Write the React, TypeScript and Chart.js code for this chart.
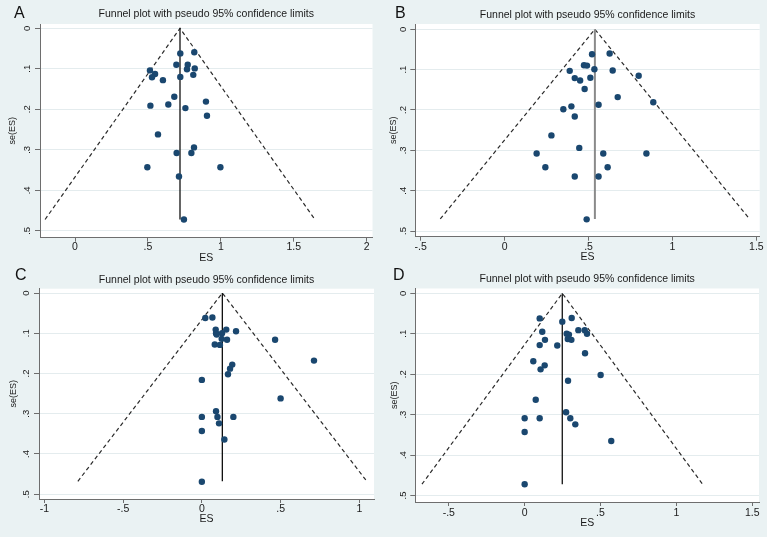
import React, { useEffect, useRef } from 'react';
import { Chart, registerables } from 'chart.js';
Chart.register(...registerables);

Chart.defaults.font.family = '"Liberation Sans", Arial, sans-serif';

// ---------- data ----------
const chartTitle = 'Funnel plot with pseudo 95% confidence limits';
const xTitle = 'ES';
const yTitle = 'se(ES)';
const seTicks = [0, 0.1, 0.2, 0.3, 0.4, 0.5];

const esA = [0.722, 0.818, 0.695, 0.773, 0.768, 0.821, 0.514, 0.549, 0.528, 0.722, 0.811, 0.603, 0.681, 0.898, 0.64, 0.517, 0.757, 0.905, 0.569, 0.816, 0.697, 0.798, 0.496, 0.997, 0.713, 0.747];
const seA = [0.062, 0.059, 0.090, 0.090, 0.101, 0.099, 0.104, 0.113, 0.121, 0.120, 0.115, 0.128, 0.169, 0.181, 0.188, 0.191, 0.197, 0.216, 0.262, 0.294, 0.308, 0.308, 0.343, 0.343, 0.366, 0.472];
const pooledA = 0.72;
const maxSeA = 0.472;
const xTicksA = [0, 0.5, 1, 1.5, 2];

const esB = [0.521, 0.626, 0.473, 0.491, 0.535, 0.388, 0.644, 0.799, 0.418, 0.45, 0.511, 0.477, 0.674, 0.886, 0.56, 0.398, 0.35, 0.418, 0.279, 0.445, 0.191, 0.588, 0.845, 0.243, 0.614, 0.418, 0.56, 0.489];
const seB = [0.062, 0.060, 0.089, 0.090, 0.099, 0.103, 0.102, 0.115, 0.121, 0.127, 0.120, 0.148, 0.168, 0.181, 0.187, 0.191, 0.198, 0.216, 0.263, 0.294, 0.308, 0.308, 0.308, 0.342, 0.342, 0.365, 0.365, 0.471];
const pooledB = 0.538;
const maxSeB = 0.47;
const xTicksB = [-0.5, 0, 0.5, 1, 1.5];

const esC = [0.022, 0.067, 0.088, 0.155, 0.217, 0.09, 0.094, 0.128, 0.126, 0.16, 0.465, 0.082, 0.115, 0.712, 0.193, 0.179, 0.166, 0, 0.5, 0.09, 0, 0.099, 0.2, 0.109, 0, 0.143, 0];
const seC = [0.062, 0.061, 0.091, 0.091, 0.095, 0.100, 0.103, 0.100, 0.114, 0.116, 0.116, 0.128, 0.129, 0.168, 0.178, 0.188, 0.202, 0.216, 0.262, 0.294, 0.308, 0.308, 0.308, 0.324, 0.343, 0.364, 0.469];
const pooledC = 0.13;
const maxSeC = 0.468;
const xTicksC = [-1, -0.5, 0, 0.5, 1];

const esD = [0.099, 0.248, 0.31, 0.116, 0.354, 0.396, 0.277, 0.292, 0.411, 0.134, 0.284, 0.308, 0.099, 0.215, 0.398, 0.057, 0.132, 0.105, 0.501, 0.286, 0.073, 0.273, 0, 0.099, 0.301, 0.334, 0, 0.571, 0];
const seD = [0.062, 0.070, 0.061, 0.095, 0.091, 0.091, 0.100, 0.102, 0.100, 0.115, 0.113, 0.115, 0.128, 0.129, 0.148, 0.168, 0.178, 0.188, 0.202, 0.216, 0.263, 0.294, 0.309, 0.309, 0.309, 0.324, 0.343, 0.365, 0.472];
const pooledD = 0.248;
const maxSeD = 0.472;
const xTicksD = [-0.5, 0, 0.5, 1, 1.5];

// ---------- layout / style ----------
const BG = '#eaf2f3';
const DOT = '#1a476f';
const AXIS = '#6e6e6e';
const GRID = '#e4ecee';
const TEXT = '#1a1a1a';

type PanelCfg = {
  letter: string; es: number[]; se: number[]; pooled: number; maxSe: number; xTicks: number[];
  xMin: number; xMax: number; yMin: number; yMax: number;
  left: number; top: number; w: number; h: number;
  yW: number; padR: number; xH: number;
  tTop: number; tBottom: number;
  yTickPad: number; yTitlePad: number; xTickPad: number; xTitlePad: number;
  lx: number; ly: number; vColor: string; vWidth: number;
};

const panels: PanelCfg[] = [
  { letter: 'A', es: esA, se: seA, pooled: pooledA, maxSe: maxSeA, xTicks: xTicksA,
    xMin: -0.24, xMax: 2.04, yMin: -0.0106, yMax: 0.517,
    left: 0, top: 0, w: 383, h: 268, yW: 40, padR: 10.5, xH: 30.3,
    tTop: 8, tBottom: 3.4, yTickPad: 3.5, yTitlePad: 6.7, xTickPad: -1, xTitlePad: 4,
    lx: 14, ly: 18, vColor: '#111', vWidth: 1.3 },
  { letter: 'B', es: esB, se: seB, pooled: pooledB, maxSe: maxSeB, xTicks: xTicksB,
    xMin: -0.532, xMax: 1.52, yMin: -0.0131, yMax: 0.514,
    left: 383, top: 0, w: 384, h: 268, yW: 32.3, padR: 7.3, xH: 31.3,
    tTop: 8.7, tBottom: 2.7, yTickPad: 2.6, yTitlePad: 4.7, xTickPad: 0, xTitlePad: 5,
    lx: 12, ly: 18, vColor: '#8a8a8a', vWidth: 2 },
  { letter: 'C', es: esC, se: seC, pooled: pooledC, maxSe: maxSeC, xTicks: xTicksC,
    xMin: -1.034, xMax: 1.093, yMin: -0.0107, yMax: 0.512,
    left: 0, top: 268, w: 383, h: 269, yW: 39, padR: 9, xH: 38,
    tTop: 6, tBottom: 2.1, yTickPad: 3.3, yTitlePad: 8, xTickPad: -0.3, xTitlePad: 12,
    lx: 15, ly: 12, vColor: '#111', vWidth: 1.3 },
  { letter: 'D', es: esD, se: seD, pooled: pooledD, maxSe: maxSeD, xTicks: xTicksD,
    xMin: -0.721, xMax: 1.545, yMin: -0.012, yMax: 0.516,
    left: 383, top: 268, w: 384, h: 269, yW: 32.3, padR: 8, xH: 35,
    tTop: 4.7, tBottom: 3.2, yTickPad: 2.6, yTitlePad: 5.7, xTickPad: 1, xTitlePad: 7.7,
    lx: 10, ly: 12, vColor: '#111', vWidth: 1.3 },
];

const fmt = (v: number | string) => {
  const r = Math.round(Number(v) * 100) / 100;
  if (r === 0) return '0';
  return String(r).replace(/^(-?)0\./, '$1.');
};

const decoPlugin = {
  id: 'panelDeco',
  beforeDraw(chart: any) {
    const { ctx, chartArea } = chart;
    ctx.save();
    ctx.fillStyle = '#ffffff';
    ctx.fillRect(chartArea.left, chartArea.top, chartArea.right - chartArea.left, chartArea.bottom - chartArea.top);
    ctx.restore();
  },
  afterDraw(chart: any, _args: any, opts: any) {
    const { ctx } = chart;
    ctx.save();
    ctx.font = '16px "Liberation Sans", Arial, sans-serif';
    ctx.fillStyle = '#111';
    ctx.textBaseline = 'alphabetic';
    ctx.textAlign = 'left';
    ctx.fillText(opts.letter, opts.lx, opts.ly);
    ctx.restore();
  },
};

function Panel({ cfg }: { cfg: PanelCfg }) {
  const ref = useRef<HTMLCanvasElement>(null);
  useEffect(() => {
    if (!ref.current) return;
    const points = cfg.es.map((x, i) => ({ x, y: cfg.se[i] }));
    const half = 1.96 * cfg.maxSe;
    const funnel = [
      { x: cfg.pooled - half, y: cfg.maxSe },
      { x: cfg.pooled, y: 0 },
      { x: cfg.pooled + half, y: cfg.maxSe },
    ];
    const vline = [
      { x: cfg.pooled, y: 0 },
      { x: cfg.pooled, y: cfg.maxSe },
    ];
    const chart = new Chart(ref.current, {
      type: 'scatter',
      data: {
        datasets: [
          { data: points, backgroundColor: DOT, borderColor: DOT, pointRadius: 3.2, borderWidth: 0, pointHoverRadius: 3.2 },
          { data: vline, showLine: true, borderColor: cfg.vColor, borderWidth: cfg.vWidth, pointRadius: 0, fill: false },
          { data: funnel, showLine: true, borderColor: '#2a2a2a', borderWidth: 1.2, borderDash: [4, 3], pointRadius: 0, fill: false, tension: 0 },
        ],
      } as any,
      options: {
        animation: false,
        responsive: false,
        devicePixelRatio: 1,
        layout: { padding: { left: 0, right: cfg.padR, top: 0, bottom: 0 } },
        plugins: {
          legend: { display: false },
          tooltip: { enabled: false },
          title: {
            display: true, text: chartTitle, fullSize: false, color: TEXT,
            font: { size: 10.5, weight: 'normal' },
            padding: { top: cfg.tTop, bottom: cfg.tBottom },
          },
          panelDeco: { letter: cfg.letter, lx: cfg.lx, ly: cfg.ly },
        } as any,
        scales: {
          x: {
            type: 'linear', min: cfg.xMin, max: cfg.xMax,
            afterBuildTicks: (s: any) => { s.ticks = cfg.xTicks.map((v) => ({ value: v })); },
            afterFit: (s: any) => { s.height = cfg.xH; },
            grid: { drawOnChartArea: false, drawTicks: true, tickLength: 4, tickColor: AXIS, tickWidth: 1 },
            border: { display: true, color: AXIS, width: 1 },
            ticks: { autoSkip: false, minRotation: 0, maxRotation: 0, padding: cfg.xTickPad, color: TEXT, font: { size: 10.5 }, callback: (v: any) => fmt(v) },
            title: { display: true, text: xTitle, color: TEXT, font: { size: 10.5 }, padding: { top: 0, bottom: cfg.xTitlePad } },
          },
          y: {
            type: 'linear', reverse: true, min: cfg.yMin, max: cfg.yMax,
            afterBuildTicks: (s: any) => { s.ticks = seTicks.map((v) => ({ value: v })); },
            afterFit: (s: any) => { s.width = cfg.yW; },
            grid: { drawOnChartArea: true, color: GRID, lineWidth: 1, drawTicks: true, tickLength: 5, tickColor: AXIS, tickWidth: 1 },
            border: { display: true, color: AXIS, width: 1 },
            ticks: { autoSkip: false, minRotation: 90, maxRotation: 90, crossAlign: 'center', padding: cfg.yTickPad, color: TEXT, font: { size: 9.5 }, callback: (v: any) => fmt(v) },
            title: { display: true, text: yTitle, color: TEXT, font: { size: 9 }, padding: { top: cfg.yTitlePad, bottom: 0 } },
          },
        } as any,
      },
      plugins: [decoPlugin],
    });
    return () => chart.destroy();
  }, [cfg]);
  return (
    <canvas
      ref={ref}
      width={cfg.w}
      height={cfg.h}
      style={{ position: 'absolute', left: cfg.left, top: cfg.top, width: cfg.w, height: cfg.h, display: 'block' }}
    />
  );
}

export default function App() {
  return (
    <div style={{ position: 'fixed', left: 0, top: 0, width: 767, height: 537, background: BG, overflow: 'hidden' }}>
      {panels.map((p) => (
        <Panel key={p.letter} cfg={p} />
      ))}
    </div>
  );
}
